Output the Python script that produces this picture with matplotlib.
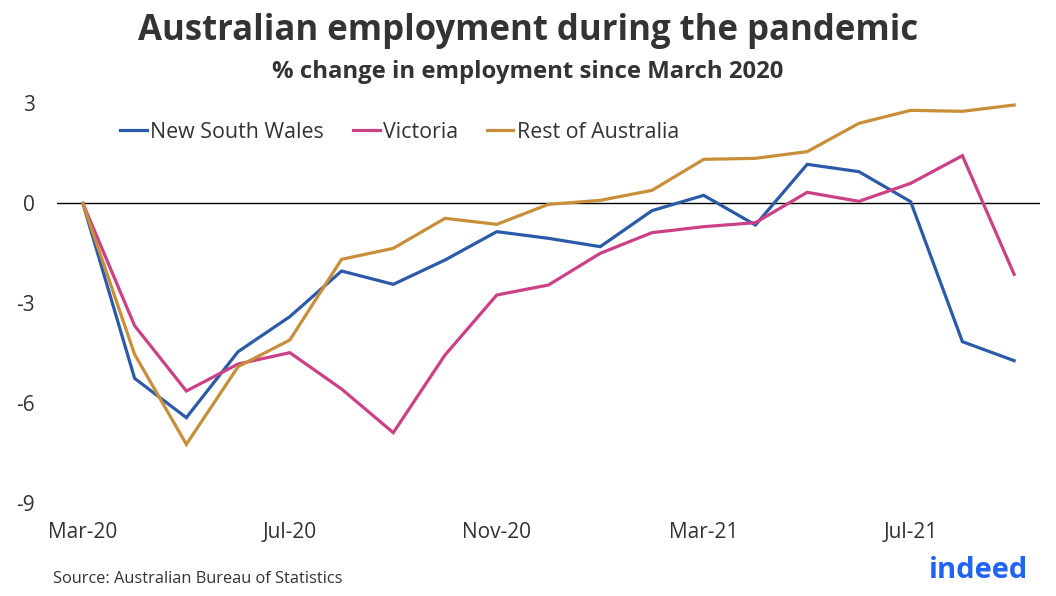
import matplotlib
matplotlib.use("Agg")
import matplotlib.pyplot as plt

months = ["Mar-20", "Apr-20", "May-20", "Jun-20", "Jul-20", "Aug-20", "Sep-20", "Oct-20",
          "Nov-20", "Dec-20", "Jan-21", "Feb-21", "Mar-21", "Apr-21", "May-21", "Jun-21",
          "Jul-21", "Aug-21", "Sep-21"]
nsw = [0, -5.25, -6.43, -4.45, -3.4, -2.03, -2.43, -1.7, -0.85, -1.05, -1.3, -0.22,
       0.24, -0.65, 1.17, 0.95, 0.05, -4.15, -4.72]
vic = [0, -3.67, -5.63, -4.82, -4.48, -5.57, -6.88, -4.55, -2.75, -2.45, -1.5, -0.88,
       -0.7, -0.58, 0.33, 0.06, 0.6, 1.43, -2.13]
rest = [0, -4.53, -7.23, -4.9, -4.1, -1.68, -1.35, -0.45, -0.63, -0.03, 0.09, 0.39,
        1.32, 1.35, 1.55, 2.4, 2.79, 2.76, 2.95]
series_names = ["New South Wales", "Victoria", "Rest of Australia"]
colors = ["#2a5aa8", "#cc4086", "#c98e3a"]
yticks = [3, 0, -3, -6, -9]
xtick_labels = ["Mar-20", "Jul-20", "Nov-20", "Mar-21", "Jul-21"]

plt.rcParams["font.family"] = ["Open Sans", "DejaVu Sans"]
W, H = 1056, 596
fig = plt.figure(figsize=(W / 100, H / 100), dpi=100)
left, right, top, bottom = 57, 1040, 90, 510
ax = fig.add_axes([left / W, 1 - bottom / H, (right - left) / W, (bottom - top) / H])

x = list(range(len(months)))
for vals, name, c in zip([nsw, vic, rest], series_names, colors):
    ax.plot(x, vals, color=c, lw=2.3, label=name, solid_joinstyle="miter")

ax.axhline(0, color="black", lw=1, zorder=1)
ax.set_xlim(-0.5, len(months) - 0.5)
ax.set_ylim(-9.2, 3.4)
ax.set_yticks(yticks)
ax.set_yticklabels([str(v) for v in yticks])
ax.set_xticks([months.index(m) for m in xtick_labels])
ax.set_xticklabels(xtick_labels)
ax.tick_params(axis="both", length=0, labelsize=15, labelcolor="#333333")
ax.tick_params(axis="y", pad=16)
ax.tick_params(axis="x", pad=9)
for s in ax.spines.values():
    s.set_visible(False)

leg = fig.legend(loc="center left", bbox_to_anchor=(120 / W, 1 - 132 / H), ncol=3,
                 frameon=False, fontsize=15.4, handlelength=1.26, handletextpad=0.16,
                 columnspacing=1.33, borderpad=0, borderaxespad=0)
for t in leg.get_texts():
    t.set_color("#333333")

fig.text(528 / W, 1 - 31 / H, "Australian employment during the pandemic", ha="center",
         va="center", fontsize=25, fontweight="bold", color="#333333")
fig.text(528 / W, 1 - 72 / H, "% change in employment since March 2020", ha="center",
         va="center", fontsize=17.2, fontweight="bold", color="#333333")
fig.text(53 / W, 1 - 579 / H, "Source: Australian Bureau of Statistics", ha="left",
         va="center", fontsize=11.8, color="#333333")
fig.text(1028 / W, 1 - 570 / H, "indeed", ha="right", va="center", fontsize=21,
         fontweight="bold", color="#2164f3")

fig.savefig("out.png", dpi=100)
